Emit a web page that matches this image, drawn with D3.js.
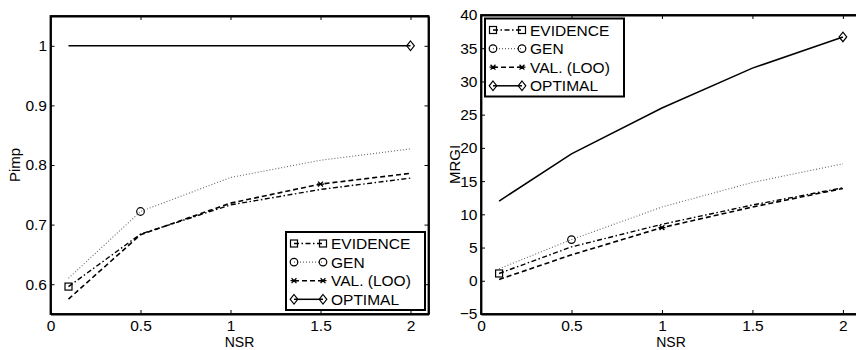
<!DOCTYPE html>
<html>
<head>
<meta charset="utf-8">
<script src="https://cdn.jsdelivr.net/npm/d3@7"></script>
<style>
  html, body { margin: 0; padding: 0; background: #fff; }
  svg { display: block; }
  text { font-family: "Liberation Sans", Arial, Helvetica, sans-serif; fill: #000; }
</style>
</head>
<body>
<svg id="chart" width="856" height="350"></svg>
<script>
// noise-to-signal ratios on the x axis
const nsr = [0.1, 0.5, 1, 1.5, 2];
const xTicks = [0, 0.5, 1, 1.5, 2];

// left panel: Pimp
const pimpEvidence = [0.596, 0.684, 0.733, 0.759, 0.778];
const pimpGen = [0.610, 0.722, 0.779, 0.808, 0.827];
const pimpVal = [0.575, 0.683, 0.736, 0.768, 0.786];
const pimpOptimal = [1, 1, 1, 1, 1];
const pimpTicks = [0.6, 0.7, 0.8, 0.9, 1];

// right panel: MRGI
const mrgiEvidence = [1.1, 5.1, 8.5, 11.4, 14.0];
const mrgiGen = [1.8, 6.2, 11.1, 14.8, 17.6];
const mrgiVal = [0.2, 3.9, 8.0, 11.1, 13.9];
const mrgiOptimal = [12.0, 19.1, 26.0, 32.0, 36.7];
const mrgiTicks = [-5, 0, 5, 10, 15, 20, 25, 30, 35, 40];

const legendNames = ['EVIDENCE', 'GEN', 'VAL. (LOO)', 'OPTIMAL'];

// line style per series (same order as legendNames)
const styles = [
  {dash: '5,2.5,1.5,2.5', color: '#000', width: 1.4, marker: 'square'},
  {dash: '1,2', color: '#666', width: 1.1, marker: 'circle'},
  {dash: '5,3', color: '#000', width: 1.6, marker: 'star'},
  {dash: null, color: '#000', width: 1.5, marker: 'diamond'}
];

const svg = d3.select('#chart');
const fmt = d3.format('~g');

function drawMarker(g, type, cx, cy) {
  if (type === 'square') {
    g.append('rect').attr('x', cx - 3.5).attr('y', cy - 3.5)
      .attr('width', 7).attr('height', 7)
      .attr('fill', 'none').attr('stroke', '#000').attr('stroke-width', 1.2);
  } else if (type === 'circle') {
    g.append('circle').attr('cx', cx).attr('cy', cy).attr('r', 3.8)
      .attr('fill', 'none').attr('stroke', '#000').attr('stroke-width', 1.2);
  } else if (type === 'star') {
    const r = 3.5;
    const p = d3.path();
    p.moveTo(cx - r, cy); p.lineTo(cx + r, cy);
    p.moveTo(cx - r * 0.7, cy - r * 0.7); p.lineTo(cx + r * 0.7, cy + r * 0.7);
    p.moveTo(cx - r * 0.7, cy + r * 0.7); p.lineTo(cx + r * 0.7, cy - r * 0.7);
    g.append('path').attr('d', p.toString()).attr('stroke', '#000').attr('stroke-width', 1.3);
  } else if (type === 'diamond') {
    g.append('path')
      .attr('d', `M${cx},${cy - 4.8}L${cx + 3.8},${cy}L${cx},${cy + 4.8}L${cx - 3.8},${cy}Z`)
      .attr('fill', 'none').attr('stroke', '#000').attr('stroke-width', 1.2);
  }
}

function drawPanel(cfg) {
  const x = d3.scaleLinear().domain([0, 2.1]).range(cfg.xRange);
  const y = d3.scaleLinear().domain(cfg.yDomain).range(cfg.yRange);
  const g = svg.append('g');

  // series
  const line = d3.line().x((d, i) => x(nsr[i])).y(d => y(d));
  cfg.series.forEach((vals, k) => {
    const s = styles[k];
    g.append('path').datum(vals)
      .attr('d', line)
      .attr('fill', 'none')
      .attr('stroke', s.color)
      .attr('stroke-width', s.width)
      .attr('stroke-dasharray', s.dash);
    const mi = cfg.markerAt[k];
    drawMarker(g, s.marker, x(nsr[mi]), y(vals[mi]));
  });

  // axes, ticks pointing in, box all round
  const [x0, x1] = cfg.xRange;
  const [yb, yt] = cfg.yRange;
  const bottom = g.append('g').attr('transform', `translate(0,${yb})`)
    .call(d3.axisBottom(x).tickValues(xTicks).tickFormat(fmt).tickSizeInner(-4).tickSizeOuter(0).tickPadding(6));
  const top = g.append('g').attr('transform', `translate(0,${yt})`)
    .call(d3.axisTop(x).tickValues(xTicks).tickFormat('').tickSizeInner(-4).tickSizeOuter(0));
  const left = g.append('g').attr('transform', `translate(${x0},0)`)
    .call(d3.axisLeft(y).tickValues(cfg.yTicks).tickFormat(fmt).tickSizeInner(-4).tickSizeOuter(0).tickPadding(3.5));
  const right = g.append('g').attr('transform', `translate(${x1},0)`)
    .call(d3.axisRight(y).tickValues(cfg.yTicks).tickFormat('').tickSizeInner(-4).tickSizeOuter(0));
  [bottom, top, left, right].forEach(a => {
    a.select('.domain').attr('stroke', '#000').attr('stroke-width', 1.8);
    a.selectAll('.tick line').attr('stroke', '#000').attr('stroke-width', 1);
    a.selectAll('.tick text').attr('font-size', 15.5).attr('font-family', null).attr('fill', '#000');
  });
  bottom.selectAll('.tick text').attr('dy', '0.7em');
  g.append('rect').attr('x', x0).attr('y', yt).attr('width', x1 - x0).attr('height', yb - yt)
    .attr('fill', 'none').attr('stroke', '#000').attr('stroke-width', 1.8);

  // axis titles
  g.append('text').attr('x', (x0 + x1) / 2).attr('y', 346.5)
    .attr('text-anchor', 'middle').attr('font-size', 14).text('NSR');
  g.append('text')
    .attr('transform', `translate(${cfg.yLabelX},${(yb + yt) / 2}) rotate(-90)`)
    .attr('text-anchor', 'middle').attr('font-size', 15).text(cfg.yLabel);

  // legend
  const lg = g.append('g').attr('transform', `translate(${cfg.legend[0]},${cfg.legend[1]})`);
  lg.append('rect').attr('width', 139).attr('height', 78)
    .attr('fill', '#fff').attr('stroke', '#000').attr('stroke-width', 2);
  legendNames.forEach((name, k) => {
    const s = styles[k];
    const ry = 11.5 + k * 18.6;
    lg.append('line').attr('x1', 8).attr('x2', 37).attr('y1', ry).attr('y2', ry)
      .attr('stroke', s.color).attr('stroke-width', s.width).attr('stroke-dasharray', s.dash);
    drawMarker(lg, s.marker, 8, ry);
    drawMarker(lg, s.marker, 37, ry);
    lg.append('text').attr('x', 45).attr('y', ry).attr('dy', '0.36em')
      .attr('font-size', 15.5).text(name);
  });
}

drawPanel({
  xRange: [50.5, 428.5],
  yRange: [314, 16],
  yDomain: [0.55, 1.05],
  yTicks: pimpTicks,
  yLabel: 'Pimp',
  yLabelX: 20,
  series: [pimpEvidence, pimpGen, pimpVal, pimpOptimal],
  markerAt: [0, 1, 3, 4],
  legend: [286, 232]
});

drawPanel({
  xRange: [481, 861],
  yRange: [314, 15],
  yDomain: [-5, 40],
  yTicks: mrgiTicks,
  yLabel: 'MRGI',
  yLabelX: 460,
  series: [mrgiEvidence, mrgiGen, mrgiVal, mrgiOptimal],
  markerAt: [0, 1, 2, 4],
  legend: [485, 18.5]
});
</script>
</body>
</html>
